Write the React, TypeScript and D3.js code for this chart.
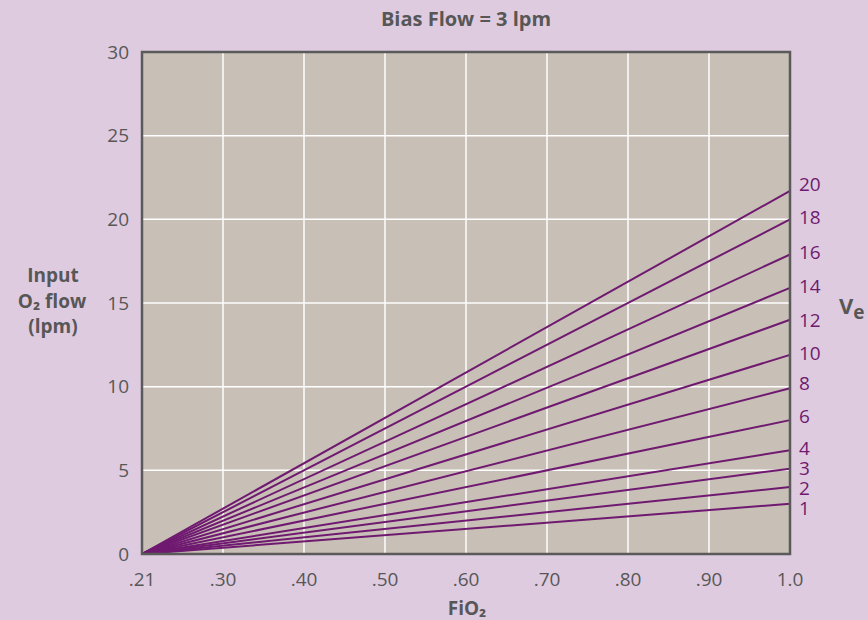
import React, { useEffect, useRef } from 'react';
import * as d3 from 'd3';

// x categories (FiO2) — drawn evenly spaced as in the original
const fio2Labels = ['.21', '.30', '.40', '.50', '.60', '.70', '.80', '.90', '1.0'];
// minute volume (Ve) for each line
const veValues = [20, 18, 16, 14, 12, 10, 8, 6, 4, 3, 2, 1];
// input O2 flow at FiO2 = 1.0 for each Ve line (lines start at 0 at .21)
const flowAtFull = [21.7, 20, 17.9, 15.9, 14, 11.9, 9.9, 8, 6.2, 5.1, 4, 3];
// where each Ve label sits on the flow scale
const veLabelAt = [22.1, 20.1, 18.0, 16.0, 13.95, 12.0, 10.2, 8.2, 6.3, 5.1, 3.9, 2.75];
const yTicks = [0, 5, 10, 15, 20, 25, 30];

const App = () => {
  const svgRef = useRef<SVGSVGElement>(null);

  useEffect(() => {
    const svg = d3.select(svgRef.current);
    svg.selectAll('*').remove();

    const W = 868;
    const H = 620;
    const margin = { top: 52, right: 78, bottom: 66, left: 142 };
    const width = W - margin.left - margin.right;
    const height = H - margin.top - margin.bottom;
    const textColor = '#575757';
    const purple = '#6f1a70';
    const font = '"Open Sans", sans-serif';

    svg.attr('width', W).attr('height', H);
    svg.append('rect').attr('width', W).attr('height', H).attr('fill', '#dfcbe0');

    const g = svg.append('g').attr('transform', `translate(${margin.left},${margin.top})`);

    const x = d3.scalePoint<string>().domain(fio2Labels).range([0, width]);
    const y = d3.scaleLinear().domain([0, 30]).range([height, 0]);

    // plot background
    g.append('rect')
      .attr('width', width)
      .attr('height', height)
      .attr('fill', '#c8bfb6');

    // grid lines
    g.selectAll('.vgrid')
      .data(fio2Labels.slice(1, -1))
      .enter()
      .append('line')
      .attr('x1', d => x(d)!)
      .attr('x2', d => x(d)!)
      .attr('y1', 0)
      .attr('y2', height)
      .attr('stroke', '#ffffff')
      .attr('stroke-width', 1.5);

    g.selectAll('.hgrid')
      .data(yTicks.slice(1, -1))
      .enter()
      .append('line')
      .attr('x1', 0)
      .attr('x2', width)
      .attr('y1', d => y(d))
      .attr('y2', d => y(d))
      .attr('stroke', '#ffffff')
      .attr('stroke-width', 1.5);

    // Ve lines
    const line = d3.line<[string, number]>()
      .x(d => x(d[0])!)
      .y(d => y(d[1]));

    flowAtFull.forEach(v => {
      g.append('path')
        .datum([[fio2Labels[0], 0], [fio2Labels[fio2Labels.length - 1], v]] as [string, number][])
        .attr('fill', 'none')
        .attr('stroke', purple)
        .attr('stroke-width', 2)
        .attr('d', line);
    });

    // frame
    g.append('rect')
      .attr('width', width)
      .attr('height', height)
      .attr('fill', 'none')
      .attr('stroke', '#5a5a5a')
      .attr('stroke-width', 2.5);

    // y tick labels
    g.selectAll('.ytick')
      .data(yTicks)
      .enter()
      .append('text')
      .attr('x', -13)
      .attr('y', d => y(d))
      .attr('dy', '0.35em')
      .attr('text-anchor', 'end')
      .style('font-family', font)
      .style('font-size', '19px')
      .style('fill', textColor)
      .text(d => d);

    // x tick labels
    g.selectAll('.xtick')
      .data(fio2Labels)
      .enter()
      .append('text')
      .attr('x', d => x(d)!)
      .attr('y', height + 25)
      .attr('dy', '0.35em')
      .attr('text-anchor', 'middle')
      .style('font-family', font)
      .style('font-size', '19px')
      .style('fill', textColor)
      .text(d => d);

    // Ve labels at line ends
    g.selectAll('.velabel')
      .data(veValues)
      .enter()
      .append('text')
      .attr('x', width + 9)
      .attr('y', (d, i) => y(veLabelAt[i]))
      .attr('dy', '0.35em')
      .style('font-family', font)
      .style('font-size', '19px')
      .style('fill', purple)
      .text(d => d);

    // Ve axis title
    const ve = svg.append('text')
      .attr('x', 839)
      .attr('y', 314)
      .style('font-family', font)
      .style('font-size', '22px')
      .style('font-weight', 'bold')
      .style('fill', textColor);
    ve.append('tspan').text('V');
    ve.append('tspan').attr('dy', 5).style('font-size', '19px').text('e');

    // y axis title
    const yTitle = svg.append('g')
      .style('font-family', font)
      .style('font-size', '19px')
      .style('font-weight', 'bold')
      .style('fill', textColor)
      .attr('text-anchor', 'middle');
    yTitle.append('text').attr('x', 53).attr('y', 282).text('Input');
    yTitle.append('text').attr('x', 52).attr('y', 308).text('O₂ flow');
    yTitle.append('text').attr('x', 53).attr('y', 333).text('(lpm)');

    // x axis title
    svg.append('text')
      .attr('x', 467)
      .attr('y', 615)
      .attr('text-anchor', 'middle')
      .style('font-family', font)
      .style('font-size', '19px')
      .style('font-weight', 'bold')
      .style('fill', textColor)
      .text('FiO₂');

    // chart title
    svg.append('text')
      .attr('x', 466)
      .attr('y', 26)
      .attr('text-anchor', 'middle')
      .style('font-family', font)
      .style('font-size', '20px')
      .style('font-weight', 'bold')
      .style('fill', textColor)
      .text('Bias Flow = 3 lpm');
  }, []);

  return (
    <div style={{ position: 'absolute', left: 0, top: 0 }}>
      <svg ref={svgRef}></svg>
    </div>
  );
};

export default App;
